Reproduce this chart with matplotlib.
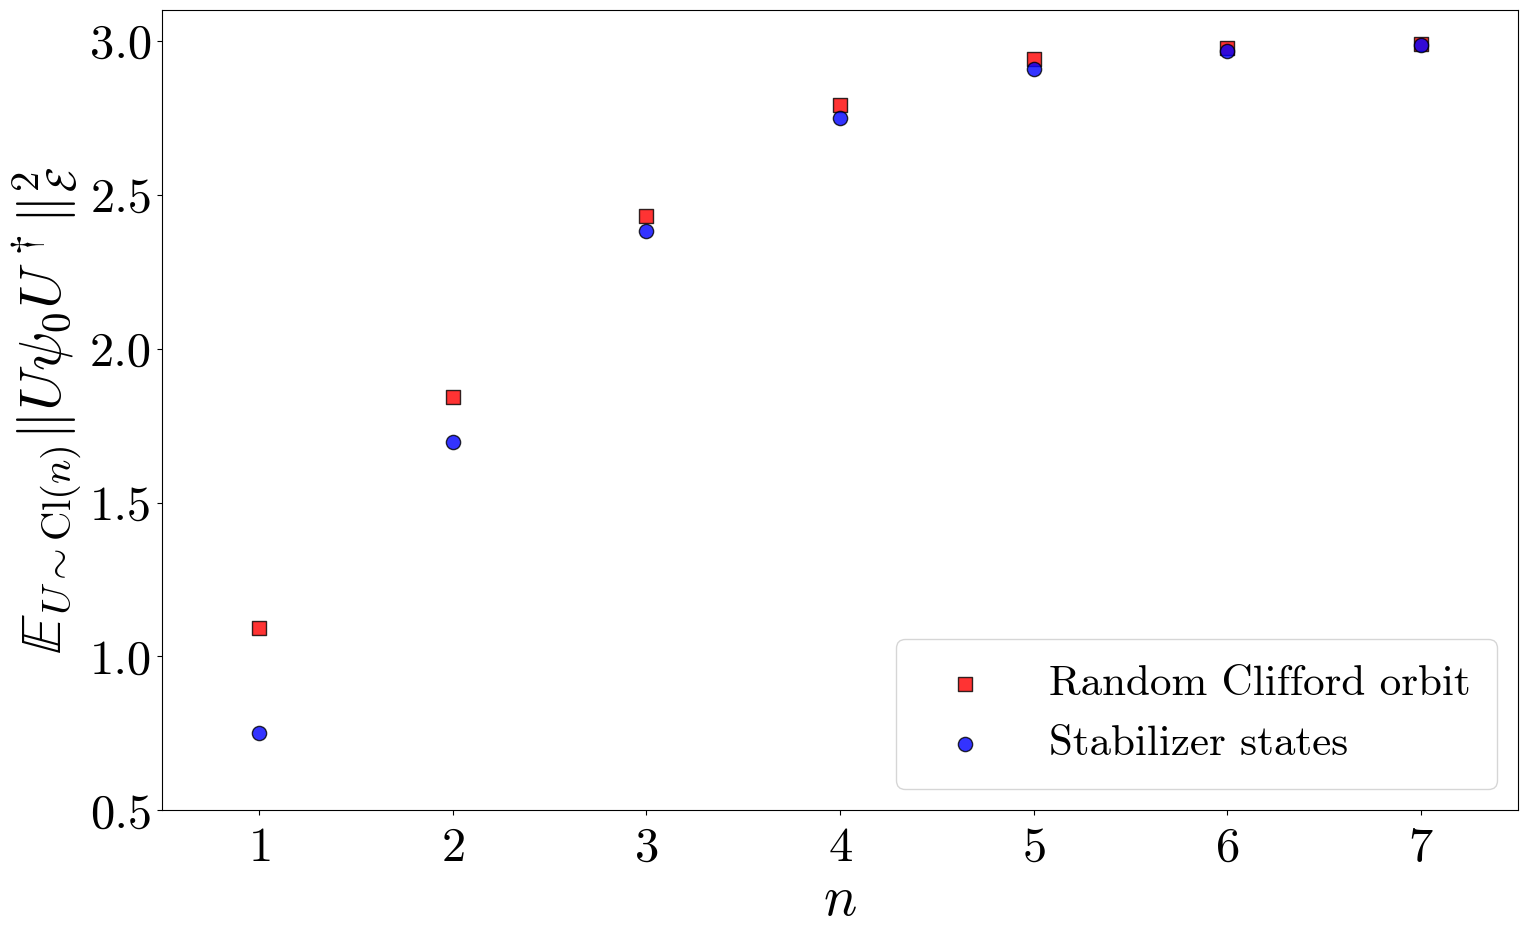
import numpy as np
import matplotlib
matplotlib.use("Agg")
import matplotlib.pyplot as plt

plt.rcParams['font.family'] = 'serif'
plt.rcParams['font.serif'] = ['cmr10']
plt.rcParams['mathtext.fontset'] = 'cm'
plt.rcParams['axes.formatter.use_mathtext'] = True

n = [1, 2, 3, 4, 5, 6, 7]
clifford_orbit = [1.092, 1.843, 2.431, 2.792, 2.941, 2.978, 2.990]
stabilizer = [0.750, 1.696, 2.382, 2.750, 2.909, 2.967, 2.987]

fig, ax = plt.subplots(figsize=(15.28, 9.4), dpi=100)

ax.scatter(n, clifford_orbit, marker='s', s=105, color='red', alpha=0.8,
           edgecolors='black', linewidths=1, label='Random Clifford orbit', zorder=3)
ax.scatter(n, stabilizer, marker='o', s=105, color='blue', alpha=0.8,
           edgecolors='black', linewidths=1, label='Stabilizer states', zorder=3)

ax.set_xlim(0.5, 7.5)
ax.set_ylim(0.5, 3.1)
ax.set_xticks(n)
ax.set_yticks([0.5, 1.0, 1.5, 2.0, 2.5, 3.0])
ax.set_yticklabels(['0.5', '1.0', '1.5', '2.0', '2.5', '3.0'])
ax.tick_params(labelsize=35)
ax.tick_params(axis='x', pad=8)

ax.set_xlabel(r'$n$', fontsize=40)
ax.set_ylabel(r'$\mathbb{E}_{U\sim\mathrm{Cl}(n)}\|U\psi_0U^\dagger\|_{\mathcal{E}}^2$',
              fontsize=42, labelpad=4)

ax.legend(loc='lower right', fontsize=31, borderpad=0.6, handletextpad=0.95)

plt.subplots_adjust(left=0.106, right=0.9935, top=0.989, bottom=0.138)
plt.savefig('out.png', dpi=100)
